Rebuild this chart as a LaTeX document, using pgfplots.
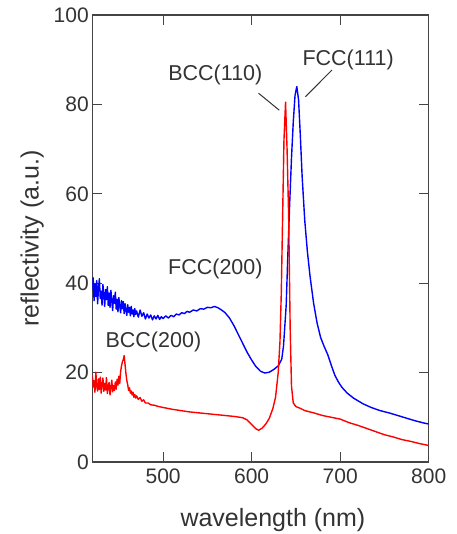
\documentclass[border=0pt]{standalone}
\usepackage{fontspec}
\setmainfont{Liberation Sans}
\usepackage{pgfplots}
\pgfplotsset{compat=1.18}
\definecolor{txt}{HTML}{333333}
\definecolor{axc}{HTML}{444444}
\definecolor{pblue}{RGB}{0,0,255}
\definecolor{pred}{RGB}{255,0,0}
\begin{document}
\begin{tikzpicture}[x=1pt,y=1pt]
\useasboundingbox (0,0) rectangle (456,534);
\begin{axis}[
 at={(92.3pt,72pt)}, anchor=south west, scale only axis,
 width=336.4pt, height=447pt,
 xmin=420, xmax=800, ymin=0, ymax=100,
 xtick={500,600,700,800}, ytick={0,20,40,60,80,100},
 tick align=inside, major tick length=10pt,
 axis line style={color=axc, line width=1.1pt},
 every tick/.style={axc, line width=1.1pt},
 /pgf/number format/assume math mode=true,
 ticklabel style={font=\fontsize{21}{23}\selectfont, text=txt},
 xticklabel style={yshift=-3pt},
 xlabel={wavelength (nm)}, ylabel={reflectivity (a.u.)},
 label style={font=\fontsize{25}{28}\selectfont, text=txt},
 xlabel style={at={(axis description cs:0.537,-0.130)}, anchor=center},
 ylabel style={at={(axis description cs:-0.179,0.5)}, anchor=center},
 clip=true,
]
\addplot[pblue, line width=1.4pt, line join=round] coordinates {
(420,38.5) (421,41.2) (422,36.1) (423,39.8) (424,37.0) (425,40.6) (426,35.4) (427,38.9) (428,41.0) (429,36.6)
(430,38.2) (431,35.1) (432,39.7) (433,37.4) (434,34.8) (435,38.6) (436,36.3) (437,39.2) (438,35.0) (439,37.8)
(440,34.6) (441,38.4) (442,36.0) (443,33.9) (444,37.2) (445,35.5) (446,38.0) (447,34.2) (448,36.4) (449,33.6)
(450,36.8) (451,34.9) (452,33.4) (453,36.1) (454,34.3) (455,35.9) (456,33.2) (457,35.4) (458,34.0) (459,32.8)
(460,35.2) (461,33.5) (462,34.6) (463,32.7) (464,34.8) (465,33.1) (466,34.0) (467,32.5) (468,34.3) (469,33.0)
(470,33.8) (472,32.4) (474,34.0) (476,32.6) (478,33.4) (480,32.0) (482,33.1) (484,32.2) (486,32.9) (488,31.8)
(490,32.7) (492,32.0) (494,32.8) (496,31.9) (498,32.5) (500,32.1) (503,32.7) (506,32.2) (509,32.8) (512,32.5)
(515,33.1) (518,32.9) (521,33.4) (524,33.2) (527,33.7) (530,33.5) (534,34.0) (538,33.8) (542,34.3) (546,34.2)
(550,34.6) (554,34.5) (558,34.8) (562,34.5) (566,34.0) (570,33.4)
(575,32.2) (580,30.5) (585,28.5) (590,26.5) (595,24.5) (600,22.8) (605,21.3) (610,20.3) (615,19.9) (620,20.1)
(625,20.7) (630,21.5) (634,23) (636,26) (639,35) (641,47) (643,58) (645,68) (647,76) (649,82)
(651,84) (653,81) (655,73) (657,64) (660,54) (663,47) (666,41.5) (670,35.5) (674,31) (678,27.8)
(682,25.8) (686,24) (690,21.6) (694,19.4) (698,17.9) (702,16.7) (708,15.4) (715,14.3) (726,13) (735,12.2)
(745,11.5) (755,11) (765,10.4) (775,9.8) (785,9.2) (795,8.7) (800,8.5)
};
\addplot[pred, line width=1.4pt, line join=round] coordinates {
(420,19.5) (421,16.8) (422,18.2) (423,15.6) (424,20.1) (425,17.0) (426,15.9) (427,18.6) (428,16.2) (429,19.0)
(430,15.4) (431,17.3) (432,18.8) (433,15.8) (434,17.6) (435,16.1) (436,18.9) (437,15.3) (438,16.9) (439,17.8)
(440,15.0) (441,16.6) (442,18.3) (443,15.7) (444,17.1) (445,16.0) (446,17.9) (447,16.3) (448,18.5) (449,17.2)
(450,19.2) (451,17.6) (452,20.3) (453,21.5) (454,22.4) (455,22.9) (456,23.8) (457,21.8) (458,19.8) (459,18.2)
(460,17.3) (461,16.0) (462,16.6) (463,15.4) (464,15.9) (465,15.0) (466,15.6) (467,14.5) (468,15.1) (469,14.3)
(470,14.8) (472,14.0) (474,14.4) (476,13.6) (478,13.9) (480,13.2)
(483,13.2) (486,12.8) (490,12.7) (495,12.4) (500,12.2) (510,11.8) (520,11.5) (530,11.2)
(540,11) (550,10.8) (560,10.6) (570,10.4) (580,10.2) (590,9.9) (595,9.4) (600,8.4) (605,7.4) (608,7.1)
(612,7.6) (616,8.5) (620,9.8) (624,12) (627,14.5) (630,20) (632,27) (633.5,38) (635,55) (636.5,72)
(638.3,80.5) (640,70) (641.8,55) (643.5,30) (645,17) (647,13.2) (650,12.4) (655,12) (660,11.5) (670,11)
(680,10.4) (690,10) (700,9.6) (710,8.8) (720,8.2) (730,7.5) (740,6.8) (750,6.1) (760,5.6) (770,5)
(780,4.6) (790,4.1) (800,3.7)
};
\node[text=txt, font=\fontsize{21.5}{24}\selectfont] at (axis cs:559,86.6) {BCC(110)};
\node[text=txt, font=\fontsize{21.5}{24}\selectfont] at (axis cs:709,89.9) {FCC(111)};
\node[text=txt, font=\fontsize{21.5}{24}\selectfont] at (axis cs:559,43.2) {FCC(200)};
\node[text=txt, font=\fontsize{21.5}{24}\selectfont] at (axis cs:489,26.9) {BCC(200)};
\draw[txt, line width=1pt] (axis cs:607.8,82.5) -- (axis cs:631.2,78.7);
\draw[txt, line width=1pt] (axis cs:690.8,87.7) -- (axis cs:660.6,81.7);
\end{axis}
\end{tikzpicture}
\end{document}
